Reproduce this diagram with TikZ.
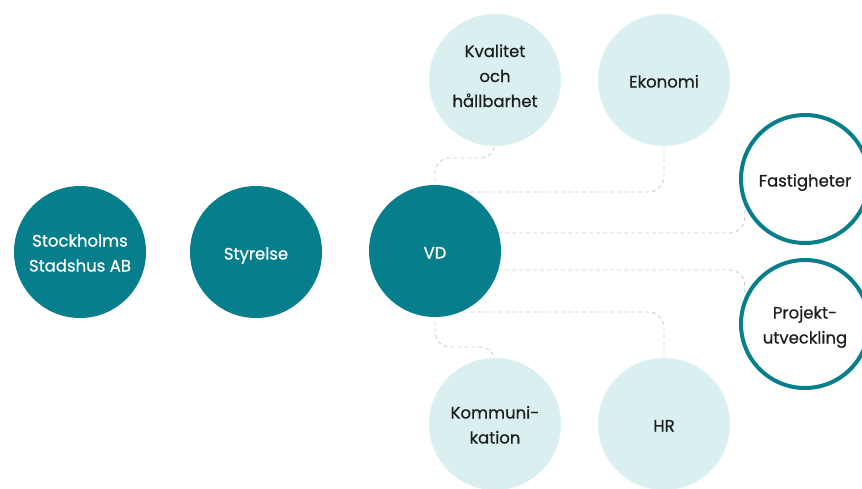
\documentclass[tikz,border=0pt]{standalone}
\usepackage{fontspec}
\setmainfont{Poppins}
\newfontfamily\medfont{Poppins}[FakeBold=0.6]
\usetikzlibrary{backgrounds}
\definecolor{teal1}{HTML}{077E8C}
\definecolor{light1}{HTML}{D9EFF0}
\definecolor{dash1}{HTML}{CFCFCF}
\definecolor{ink}{HTML}{1E1E1E}
\begin{document}
\begin{tikzpicture}[x=1pt,y=-1pt,
  base/.style={circle, inner sep=0pt, align=center, text height=16pt, text depth=1pt,
    font=\medfont\fontsize{16.5}{25}\selectfont},
  two/.style={text height=40pt},
  three/.style={text height=55pt},
  dark/.style={base, fill=teal1, minimum size=132pt, text=white},
  light/.style={base, fill=light1, minimum size=132pt, text=ink},
  ring/.style={base, draw=teal1, line width=4pt, fill=white, minimum size=128pt, text=ink},
  conn/.style={draw=dash1, line width=0.9pt, dash pattern=on 4pt off 3pt, rounded corners=15pt}]
\useasboundingbox (0,0) rectangle (862,488);
\node[dark, two] (sth) at (80,252) {Stockholms\\Stadshus AB};
\node[dark] (sty) at (256,252) {Styrelse};
\node[dark] (vd) at (435,251) {VD};
\node[light, three] (kval) at (495,80) {Kvalitet\\och\\hållbarhet};
\node[light] (ekon) at (664,80) {Ekonomi};
\node[light, two] (komm) at (495,424) {Kommuni-\\kation};
\node[light] (hr) at (664,424) {HR};
\node[ring] (fast) at (805,179) {Fastigheter};
\node[ring, two] (proj) at (805,324) {Projekt-\\utveckling};
\begin{scope}[on background layer]
\draw[conn] (vd.center) -- (vd.center |- 0,158) -- (kval.center |- 0,158) -- (kval.center);
\draw[conn] (vd.center |- 0,192) -- (ekon.center |- 0,192) -- (ekon.center);
\draw[conn] (vd.center |- 0,233) -- (fast.204 |- 0,233) -- (fast.204);
\draw[conn] (vd.center |- 0,270) -- (proj.156 |- 0,270) -- (proj.156);
\draw[conn] (vd.center |- 0,312) -- (hr.center |- 0,312) -- (hr.center);
\draw[conn] (vd.center) -- (vd.center |- 0,347) -- (komm.center |- 0,347) -- (komm.center);
\end{scope}
\end{tikzpicture}
\end{document}
